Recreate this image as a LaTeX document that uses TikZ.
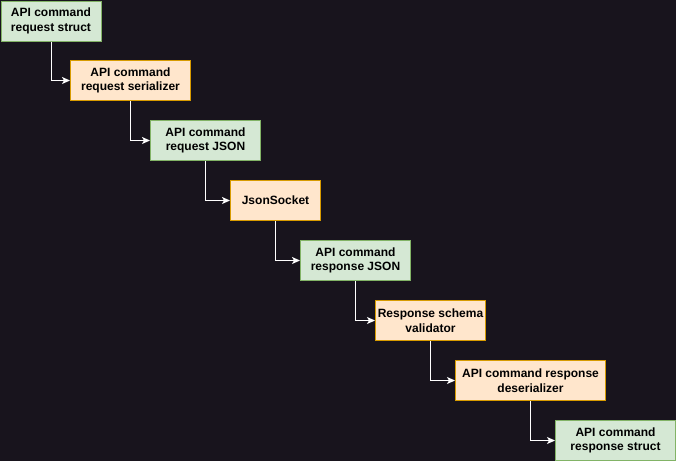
\documentclass[tikz,border=0pt]{standalone}
\usepackage{fontspec}
\setmainfont{Liberation Sans}
\usetikzlibrary{arrows.meta}
\definecolor{bg}{HTML}{18141D}
\definecolor{gfill}{HTML}{D5E8D4}
\definecolor{gline}{HTML}{82B366}
\definecolor{ofill}{HTML}{FFE6CC}
\definecolor{oline}{HTML}{D79B00}
\begin{document}
\begin{tikzpicture}[x=1pt,y=-1pt,
  box/.style={draw, line width=1pt, minimum height=40pt, inner sep=0pt, align=center,
    font=\fontsize{12}{14.5}\selectfont\bfseries, anchor=north west},
  gbox/.style={box, fill=gfill, draw=gline},
  obox/.style={box, fill=ofill, draw=oline},
  conn/.style={draw=white, line width=1pt, -{Stealth[length=8pt,width=7pt,inset=2pt]}}]
\fill[bg] (0,0) rectangle (676,461);
\useasboundingbox (0,0) rectangle (676,461);
\node[gbox, minimum width=100pt] (n1) at (0.5,0.5) {API command\\request struct};
\node[obox, minimum width=120pt] (n2) at (70,60) {API command\\request serializer};
\node[gbox, minimum width=110pt] (n3) at (150,120) {API command\\request JSON};
\node[obox, minimum width=90pt] (n4) at (230,180) {JsonSocket};
\node[gbox, minimum width=110pt] (n5) at (300,240) {API command\\response JSON};
\node[obox, minimum width=110pt] (n6) at (375,300) {Response schema\\validator};
\node[obox, minimum width=150pt] (n7) at (455,360) {API command response\\deserializer};
\node[gbox, minimum width=120pt] (n8) at (555,420) {API command\\response struct};
\draw[conn] (n1.south) |- (n2.west);
\draw[conn] (n2.south) |- (n3.west);
\draw[conn] (n3.south) |- (n4.west);
\draw[conn] (n4.south) |- (n5.west);
\draw[conn] (n5.south) |- (n6.west);
\draw[conn] (n6.south) |- (n7.west);
\draw[conn] (n7.south) |- (n8.west);
\end{tikzpicture}
\end{document}
